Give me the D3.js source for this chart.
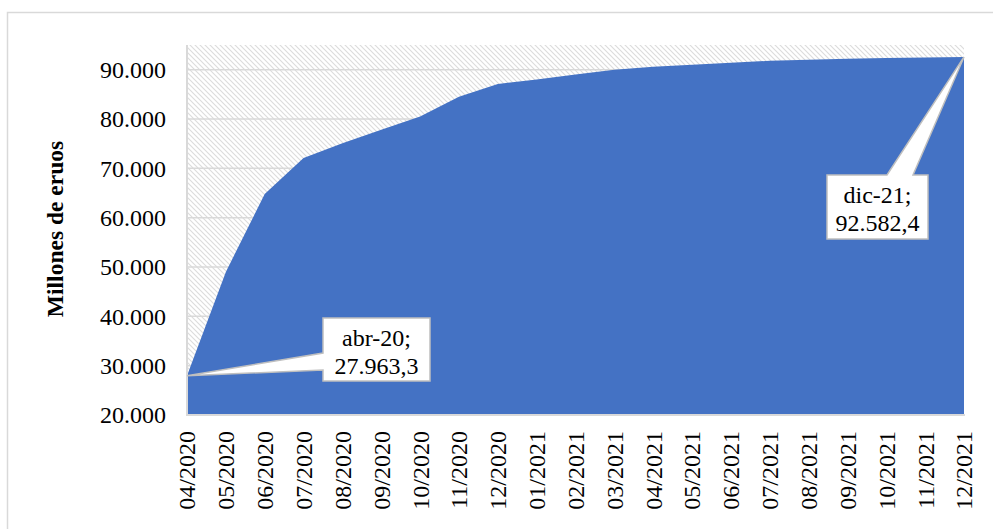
<!DOCTYPE html>
<html>
<head>
<meta charset="utf-8">
<script src="https://cdn.jsdelivr.net/npm/d3@7"></script>
<style>
  body { margin: 0; background: #fff; }
  svg { display: block; }
</style>
</head>
<body>
<svg id="chart" width="993" height="529"></svg>
<script>
// monthly cumulative amount, millions of euros
let months = ["04/2020", "05/2020", "06/2020", "07/2020", "08/2020", "09/2020", "10/2020",
              "11/2020", "12/2020", "01/2021", "02/2021", "03/2021", "04/2021", "05/2021",
              "06/2021", "07/2021", "08/2021", "09/2021", "10/2021", "11/2021", "12/2021"];
let values = [27963.3, 49000, 64800, 72100, 75100, 77800, 80500,
              84500, 87100, 88000, 89000, 90000, 90600, 91000,
              91400, 91800, 92000, 92200, 92350, 92450, 92582.4];
let yTicks = [20000, 30000, 40000, 50000, 60000, 70000, 80000, 90000];
let callouts = [
    { i: 0, name: "abr-20" },
    { i: 20, name: "dic-21" }
];

let svg = d3.select('#chart');
let font = '"Liberation Serif", "Times New Roman", serif';

let es = d3.formatLocale({ decimal: ",", thousands: ".", grouping: [3], currency: ["", " €"] });
let fmtTick = es.format(",.0f");
let fmtVal = es.format(",.1f");

let pLeft = 187, pRight = 964, pTop = 45, pBottom = 415;

let x = d3.scalePoint().domain(months).range([pLeft, pRight]);
let y = d3.scaleLinear().domain([20000, 95000]).range([pBottom, pTop]);

// outer frame
svg.append('rect')
    .attr('x', 7.5).attr('y', 12.5)
    .attr('width', 1000).attr('height', 600)
    .attr('fill', 'none')
    .attr('stroke', '#d9d9d9')
    .attr('stroke-width', 1.5);

// hatched plot background
let defs = svg.append('defs');
let pat = defs.append('pattern')
    .attr('id', 'hatch')
    .attr('patternUnits', 'userSpaceOnUse')
    .attr('width', 5).attr('height', 5);
pat.append('rect').attr('width', 5).attr('height', 5).attr('fill', '#fff');
pat.append('path')
    .attr('d', 'M-1,-1 L6,6 M-1,4 L1,6 M4,-1 L6,1')
    .attr('stroke', '#dcdcdc')
    .attr('stroke-width', 1.1);

svg.append('rect')
    .attr('x', pLeft).attr('y', pTop)
    .attr('width', pRight - pLeft).attr('height', pBottom - pTop)
    .attr('fill', 'url(#hatch)');

// gridlines
svg.append('g')
    .selectAll('line')
    .data(yTicks.slice(1))
    .join('line')
    .attr('x1', pLeft).attr('x2', pRight)
    .attr('y1', d => y(d)).attr('y2', d => y(d))
    .attr('stroke', '#d9d9d9')
    .attr('stroke-width', 1.5);

// area
let area = d3.area()
    .x((d, i) => x(months[i]))
    .y0(y(20000))
    .y1(d => y(d));

svg.append('path')
    .datum(values)
    .attr('d', area)
    .attr('fill', '#4472c4');

// axis lines
svg.append('line')
    .attr('x1', pLeft).attr('x2', pLeft)
    .attr('y1', pTop).attr('y2', pBottom)
    .attr('stroke', '#d9d9d9').attr('stroke-width', 2);
svg.append('line')
    .attr('x1', pLeft - 1).attr('x2', pRight + 1)
    .attr('y1', pBottom).attr('y2', pBottom)
    .attr('stroke', '#d9d9d9').attr('stroke-width', 2);

// y axis
let yAxis = svg.append('g')
    .attr('transform', `translate(${pLeft},0)`)
    .call(d3.axisLeft(y).tickValues(yTicks).tickFormat(fmtTick).tickSize(0).tickPadding(21));
yAxis.select('.domain').remove();
yAxis.selectAll('text')
    .attr('font-family', font)
    .attr('font-size', 24)
    .attr('fill', '#000');

// x axis
let xAxis = svg.append('g')
    .attr('transform', `translate(0,${pBottom})`)
    .call(d3.axisBottom(x).tickSize(0));
xAxis.select('.domain').remove();
xAxis.selectAll('text')
    .attr('font-family', font)
    .attr('font-size', 24)
    .attr('fill', '#000')
    .attr('text-anchor', 'end')
    .attr('transform', 'rotate(-90)')
    .attr('x', -16)
    .attr('y', 0)
    .attr('dy', '0.33em');

// y title
svg.append('text')
    .attr('transform', 'translate(63,229) rotate(-90)')
    .attr('text-anchor', 'middle')
    .attr('font-family', font)
    .attr('font-weight', 'bold')
    .attr('font-size', 23.5)
    .text('Millones de eruos');

// callouts
let boxes = [
    { x0: 323, y0: 318, x1: 430, y1: 381, side: 'left', a: 353, b: 370 },
    { x0: 827, y0: 175, x1: 928, y1: 239, side: 'top', a: 887, b: 913 }
];

callouts.forEach((c, k) => {
    let b = boxes[k];
    let px = x(months[c.i]), py = y(values[c.i]);
    let pts;
    if (b.side === 'left') {
        pts = [[b.x0, b.y0], [b.x1, b.y0], [b.x1, b.y1], [b.x0, b.y1],
               [b.x0, b.b], [px, py], [b.x0, b.a]];
    } else {
        pts = [[b.x0, b.y0], [b.a, b.y0], [px, py], [b.b, b.y0],
               [b.x1, b.y0], [b.x1, b.y1], [b.x0, b.y1]];
    }
    svg.append('path')
        .attr('d', d3.line()(pts) + 'Z')
        .attr('fill', '#fff')
        .attr('stroke', '#bfbfbf')
        .attr('stroke-width', 1.5)
        .attr('stroke-linejoin', 'miter');

    let cx = (b.x0 + b.x1) / 2;
    let t = svg.append('text')
        .attr('font-family', font)
        .attr('font-size', 24)
        .attr('text-anchor', 'middle')
        .attr('fill', '#000');
    t.append('tspan').attr('x', cx).attr('y', b.y0 + 28).text(c.name + ';');
    t.append('tspan').attr('x', cx).attr('y', b.y0 + 56).text(fmtVal(values[c.i]));
});
</script>
</body>
</html>
